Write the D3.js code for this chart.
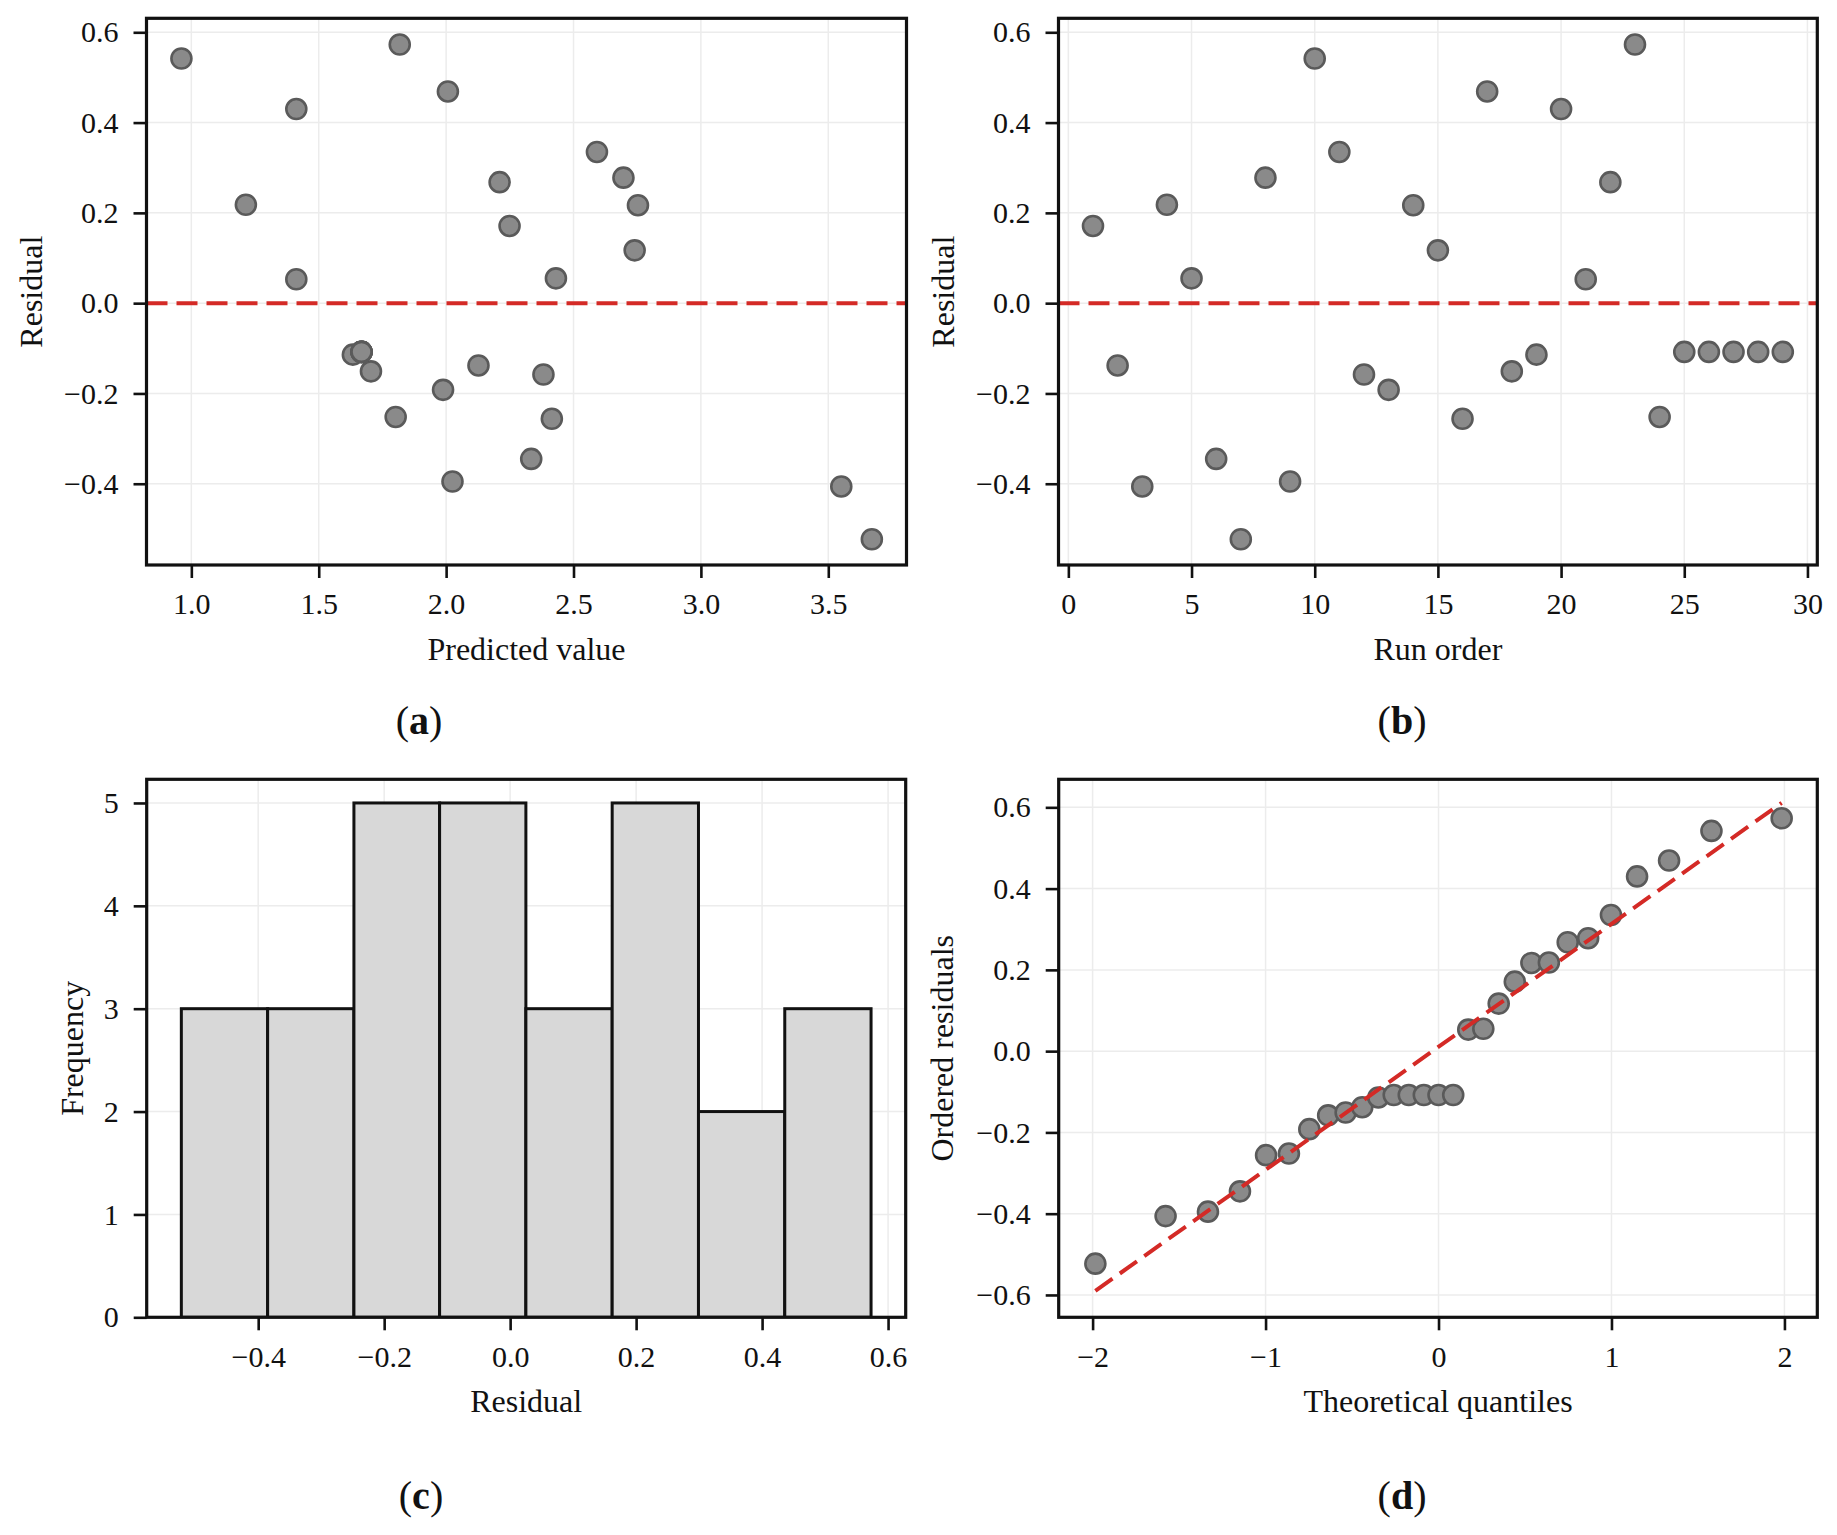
<!DOCTYPE html>
<html>
<head>
<meta charset="utf-8">
<script src="https://cdn.jsdelivr.net/npm/d3@7"></script>
<style>
  body { margin: 0; background: #fff; }
  svg { display: block; font-family: "Liberation Serif", "Times New Roman", serif; }
</style>
</head>
<body>
<svg id="fig" width="1837" height="1535"></svg>
<script>
// residuals of the fitted model, in run order
var runOrder = [1, 2, 3, 4, 5, 6, 7, 8, 9, 10, 11, 12, 13, 14, 15,
                16, 17, 18, 19, 20, 21, 22, 23, 24, 25, 26, 27, 28, 29]
var predicted = [2.249, 2.127, 3.551, 1.214, 2.431, 2.334, 3.671, 2.696, 2.025, 0.961,
                 2.592, 2.382, 1.988, 2.753, 2.740, 2.415, 2.007, 1.705, 1.634, 1.412,
                 1.412, 2.210, 1.818, 1.802, 1.668, 1.668, 1.668, 1.668, 1.668]
var residual = [0.171, -0.138, -0.406, 0.218, 0.055, -0.345, -0.523, 0.278, -0.395, 0.542,
                0.335, -0.158, -0.192, 0.217, 0.117, -0.256, 0.469, -0.151, -0.114, 0.430,
                0.053, 0.268, 0.573, -0.252, -0.108, -0.108, -0.108, -0.108, -0.108]

// histogram (c)
var binEdges = [-0.522, -0.385, -0.248, -0.112, 0.025, 0.162, 0.299, 0.436, 0.573]
var binCounts = [3, 3, 5, 5, 3, 5, 2, 3]

// normal probability plot (d)
var quantiles = [-1.984, -1.578, -1.333, -1.148, -0.997, -0.865, -0.747, -0.638, -0.537, -0.441,
                 -0.348, -0.259, -0.172, -0.085, 0.000, 0.085, 0.172, 0.259, 0.348, 0.441,
                 0.537, 0.638, 0.747, 0.865, 0.997, 1.148, 1.333, 1.578, 1.984]
var qqLineX = [-1.984, 1.984]
var qqLineY = [-0.590, 0.611]

// tick values
var ticksPred = [1.0, 1.5, 2.0, 2.5, 3.0, 3.5]
var ticksRun = [0, 5, 10, 15, 20, 25, 30]
var ticksResid = [-0.4, -0.2, 0.0, 0.2, 0.4, 0.6]
var ticksFreq = [0, 1, 2, 3, 4, 5]
var ticksTheo = [-2, -1, 0, 1, 2]
var ticksOrdered = [-0.6, -0.4, -0.2, 0.0, 0.2, 0.4, 0.6]

var svg = d3.select("#fig")
var f1 = d3.format(".1f"), f0 = d3.format("d")

var serif = '"Liberation Serif", "Times New Roman", serif'
var ptFill = "#8a8a8a", ptStroke = "#5a5a5a", red = "#d42a26", ink = "#111"

var clipId = 0
function panel(o) {
  var g = svg.append("g").attr("transform", `translate(${o.x},${o.y})`)
  var x = d3.scaleLinear().domain(o.xDomain).range([0, o.w])
  var y = d3.scaleLinear().domain(o.yDomain).range([o.h, 0])

  var id = "clip" + (clipId++)
  g.append("clipPath").attr("id", id).append("rect").attr("width", o.w).attr("height", o.h)

  // light grid
  var grid = g.append("g").attr("stroke", "#ececec").attr("stroke-width", 1.5)
  grid.selectAll(".gx").data(o.xTicks).join("line")
      .attr("x1", d => x(d)).attr("x2", d => x(d)).attr("y1", 0).attr("y2", o.h)
  grid.selectAll(".gy").data(o.yTicks).join("line")
      .attr("y1", d => y(d)).attr("y2", d => y(d)).attr("x1", 0).attr("x2", o.w)

  var plot = g.append("g").attr("clip-path", `url(#${id})`)

  // axes
  g.append("g").attr("transform", `translate(0,${o.h})`)
      .call(d3.axisBottom(x).tickValues(o.xTicks).tickFormat(o.xFmt)
        .tickSize(13).tickPadding(15).tickSizeOuter(0))
      .call(styleAxis)
  g.append("g")
      .call(d3.axisLeft(y).tickValues(o.yTicks).tickFormat(o.yFmt)
        .tickSize(13).tickPadding(15).tickSizeOuter(0))
      .call(styleAxis)

  g.append("text").attr("x", o.w / 2).attr("y", o.h + 95)
      .attr("text-anchor", "middle").attr("font-size", 32).attr("fill", ink)
      .style("font-family", serif)
      .text(o.xLabel)
  g.append("text").attr("transform", `translate(${o.yLabX},${o.h / 2}) rotate(-90)`)
      .attr("text-anchor", "middle").attr("font-size", 32).attr("fill", ink)
      .style("font-family", serif)
      .text(o.yLabel)

  return { g: g, plot: plot, x: x, y: y, w: o.w, h: o.h }
}

function styleAxis(a) {
  a.attr("font-family", null).attr("font-size", null)
  a.select(".domain").remove()
  a.selectAll(".tick line").attr("stroke", ink).attr("stroke-width", 2.6)
  a.selectAll(".tick text").attr("fill", ink)
      .style("font-family", serif).style("font-size", "30px")
}

function frame(p) {
  p.g.append("rect").attr("width", p.w).attr("height", p.h)
      .attr("fill", "none").attr("stroke", ink).attr("stroke-width", 3.2)
}

function dots(p, xs, ys) {
  p.plot.append("g").selectAll("circle").data(xs).join("circle")
      .attr("cx", d => p.x(d)).attr("cy", (d, i) => p.y(ys[i])).attr("r", 10)
      .attr("fill", ptFill).attr("stroke", ptStroke).attr("stroke-width", 2.6)
}

function zeroLine(p) {
  p.plot.append("line")
      .attr("x1", 0).attr("x2", p.w).attr("y1", p.y(0)).attr("y2", p.y(0))
      .attr("stroke", red).attr("stroke-width", 4).attr("stroke-dasharray", "21,9")
}

function panelLabel(cx, by, letter) {
  var t = svg.append("text").attr("x", cx).attr("y", by)
      .attr("text-anchor", "middle").attr("font-size", 40).attr("fill", ink)
      .style("font-family", serif)
  t.append("tspan").text("(")
  t.append("tspan").attr("font-weight", "bold").text(letter)
  t.append("tspan").text(")")
}

// (a) residual vs predicted
var pa = panel({
  x: 146.5, y: 18.3, w: 760, h: 546.7,
  xDomain: [0.824, 3.807], yDomain: [-0.58, 0.631],
  xTicks: ticksPred, yTicks: ticksResid, xFmt: f1, yFmt: f1,
  xLabel: "Predicted value", yLabel: "Residual", yLabX: -104.5
})
zeroLine(pa)
dots(pa, predicted, residual)
frame(pa)

// (b) residual vs run order
var pb = panel({
  x: 1058.5, y: 18.3, w: 758.8, h: 546.7,
  xDomain: [-0.4, 30.4], yDomain: [-0.58, 0.631],
  xTicks: ticksRun, yTicks: ticksResid, xFmt: f0, yFmt: f1,
  xLabel: "Run order", yLabel: "Residual", yLabX: -104.5
})
zeroLine(pb)
dots(pb, runOrder, residual)
frame(pb)

// (c) histogram of residuals
var pc = panel({
  x: 146.7, y: 779.3, w: 759, h: 538,
  xDomain: [-0.577, 0.628], yDomain: [0, 5.23],
  xTicks: ticksResid, yTicks: ticksFreq, xFmt: f1, yFmt: f0,
  xLabel: "Residual", yLabel: "Frequency", yLabX: -64
})
pc.plot.append("g").selectAll("rect").data(binCounts).join("rect")
    .attr("x", (d, i) => pc.x(binEdges[i]))
    .attr("width", (d, i) => pc.x(binEdges[i + 1]) - pc.x(binEdges[i]))
    .attr("y", d => pc.y(d))
    .attr("height", d => pc.y(0) - pc.y(d))
    .attr("fill", "#d8d8d8").attr("stroke", ink).attr("stroke-width", 3)
frame(pc)

// (d) normal Q-Q plot
var sorted = d3.sort(residual)
var pd = panel({
  x: 1058.7, y: 779.3, w: 758.6, h: 538,
  xDomain: [-2.196, 2.19], yDomain: [-0.655, 0.669],
  xTicks: ticksTheo, yTicks: ticksOrdered, xFmt: f0, yFmt: f1,
  xLabel: "Theoretical quantiles", yLabel: "Ordered residuals", yLabX: -105.5
})
dots(pd, quantiles, sorted)
pd.plot.append("line")
    .attr("x1", pd.x(qqLineX[0])).attr("x2", pd.x(qqLineX[1]))
    .attr("y1", pd.y(qqLineY[0])).attr("y2", pd.y(qqLineY[1]))
    .attr("stroke", red).attr("stroke-width", 4).attr("stroke-dasharray", "21,9")
frame(pd)

panelLabel(419, 734, "a")
panelLabel(1402, 734, "b")
panelLabel(421, 1509, "c")
panelLabel(1402, 1509, "d")
</script>
</body>
</html>
